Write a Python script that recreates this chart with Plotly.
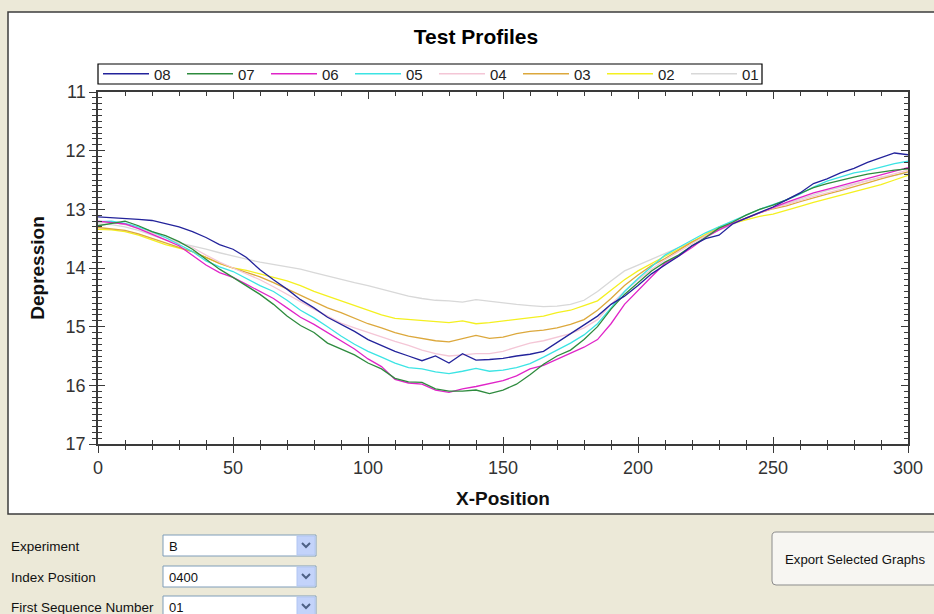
import plotly.graph_objects as go

# ---------------- data ----------------
x_position = list(range(0, 301, 5))

series_names = ["08", "07", "06", "05", "04", "03", "02", "01"]
series_colors = ["#23239B", "#2E8B3E", "#E024C8", "#3CE4E4", "#F4C6D6", "#DCA83C", "#F4F020", "#D8D8D8"]

s08 = [13.13, 13.14, 13.15, 13.17, 13.19, 13.24, 13.30, 13.38, 13.48, 13.60,
       13.68, 13.82, 14.03, 14.20, 14.36, 14.54, 14.68, 14.84, 14.96, 15.08,
       15.22, 15.32, 15.42, 15.50, 15.58, 15.50, 15.62, 15.46, 15.57, 15.56,
       15.54, 15.50, 15.47, 15.42, 15.27, 15.12, 14.98, 14.82, 14.62, 14.48,
       14.30, 14.10, 13.95, 13.80, 13.62, 13.50, 13.44, 13.25, 13.15, 13.05,
       12.96, 12.84, 12.72, 12.56, 12.48, 12.38, 12.30, 12.20, 12.12, 12.04,
       12.07]
s07 = [13.28, 13.24, 13.20, 13.28, 13.38, 13.45, 13.55, 13.68, 13.85, 14.02,
       14.16, 14.30, 14.45, 14.62, 14.82, 14.98, 15.10, 15.28, 15.38, 15.48,
       15.62, 15.72, 15.88, 15.94, 15.95, 16.06, 16.10, 16.10, 16.08, 16.14,
       16.08, 15.98, 15.82, 15.64, 15.50, 15.40, 15.22, 15.00, 14.70, 14.45,
       14.25, 14.05, 13.90, 13.78, 13.62, 13.48, 13.32, 13.22, 13.10, 13.00,
       12.93, 12.84, 12.73, 12.63, 12.56, 12.50, 12.45, 12.40, 12.36, 12.33,
       12.31]
s06 = [13.20, 13.22, 13.25, 13.33, 13.42, 13.52, 13.62, 13.78, 13.95, 14.08,
       14.16, 14.28, 14.40, 14.52, 14.68, 14.84, 14.96, 15.10, 15.24, 15.38,
       15.55, 15.68, 15.90, 15.96, 15.98, 16.08, 16.12, 16.06, 16.02, 15.97,
       15.92, 15.84, 15.72, 15.66, 15.56, 15.45, 15.35, 15.22, 14.95, 14.62,
       14.38, 14.15, 13.92, 13.80, 13.65, 13.48, 13.35, 13.24, 13.15, 13.06,
       12.96, 12.88, 12.80, 12.72, 12.66, 12.60, 12.53, 12.48, 12.42, 12.35,
       12.29]
s05 = [13.21, 13.20, 13.24, 13.30, 13.38, 13.48, 13.60, 13.72, 13.88, 13.98,
       14.06, 14.18, 14.30, 14.40, 14.55, 14.72, 14.85, 15.00, 15.16, 15.30,
       15.42, 15.52, 15.62, 15.70, 15.72, 15.77, 15.80, 15.76, 15.71, 15.76,
       15.74, 15.70, 15.63, 15.52, 15.40, 15.28, 15.14, 14.95, 14.68, 14.40,
       14.18, 13.98, 13.78, 13.65, 13.52, 13.40, 13.30, 13.20, 13.10, 13.00,
       12.92, 12.84, 12.74, 12.62, 12.52, 12.45, 12.38, 12.34, 12.28, 12.22,
       12.18]
s04 = [13.22, 13.22, 13.26, 13.32, 13.40, 13.48, 13.56, 13.65, 13.78, 13.90,
       14.00, 14.10, 14.20, 14.32, 14.45, 14.58, 14.70, 14.82, 14.94, 15.02,
       15.10, 15.18, 15.25, 15.32, 15.40, 15.46, 15.50, 15.48, 15.46, 15.46,
       15.42, 15.35, 15.28, 15.24, 15.18, 15.12, 15.02, 14.88, 14.62, 14.40,
       14.20, 14.02, 13.86, 13.72, 13.58, 13.45, 13.34, 13.24, 13.14, 13.05,
       12.98, 12.92, 12.85, 12.78, 12.72, 12.66, 12.58, 12.52, 12.46, 12.40,
       12.33]
s03 = [13.31, 13.33, 13.36, 13.42, 13.50, 13.58, 13.65, 13.72, 13.82, 13.92,
       14.00, 14.08, 14.15, 14.25, 14.36, 14.46, 14.58, 14.68, 14.76, 14.86,
       14.95, 15.02, 15.10, 15.16, 15.20, 15.24, 15.26, 15.20, 15.15, 15.20,
       15.18, 15.12, 15.08, 15.06, 15.02, 14.96, 14.88, 14.72, 14.52, 14.30,
       14.12, 13.96, 13.84, 13.70, 13.56, 13.45, 13.32, 13.24, 13.15, 13.06,
       12.99, 12.94, 12.87, 12.80, 12.74, 12.68, 12.62, 12.55, 12.48, 12.42,
       12.36]
s02 = [13.34, 13.35, 13.38, 13.44, 13.52, 13.60, 13.66, 13.72, 13.82, 13.92,
       14.00, 14.04, 14.10, 14.16, 14.22, 14.30, 14.40, 14.48, 14.56, 14.64,
       14.72, 14.80, 14.86, 14.88, 14.90, 14.92, 14.93, 14.90, 14.95, 14.93,
       14.90, 14.88, 14.85, 14.82, 14.76, 14.72, 14.64, 14.56, 14.38, 14.20,
       14.05, 13.92, 13.80, 13.68, 13.55, 13.42, 13.30, 13.24, 13.18, 13.12,
       13.08, 13.02, 12.95, 12.88, 12.82, 12.76, 12.70, 12.64, 12.58, 12.50,
       12.42]
s01 = [13.25, 13.26, 13.30, 13.36, 13.44, 13.52, 13.57, 13.62, 13.68, 13.74,
       13.80, 13.85, 13.90, 13.94, 13.98, 14.02, 14.08, 14.14, 14.20, 14.25,
       14.30, 14.36, 14.42, 14.48, 14.52, 14.55, 14.56, 14.58, 14.54, 14.57,
       14.60, 14.62, 14.64, 14.66, 14.65, 14.62, 14.55, 14.40, 14.22, 14.05,
       13.95, 13.85, 13.76, 13.66, 13.55, 13.45, 13.35, 13.25, 13.15, 13.06,
       12.98, 12.90, 12.82, 12.75, 12.68, 12.62, 12.56, 12.50, 12.45, 12.42,
       12.38]
series_values = [s08, s07, s06, s05, s04, s03, s02, s01]

x_tick_values = [0, 50, 100, 150, 200, 250, 300]
y_tick_values = [11, 12, 13, 14, 15, 16, 17]

# form controls (text)
control_labels = ["Experiment", "Index Position", "First Sequence Number"]
control_values = ["B", "0400", "01"]
button_label = "Export Selected Graphs"

# ---------------- layout helpers ----------------
FIG_W, FIG_H = 934, 614
L, T, R, B = 98, 92, 26, 170
PW, PH = FIG_W - L - R, FIG_H - T - B


def px(x):
    return (x - L) / PW


def py(y):
    return (T + PH - y) / PH


FONT = "Liberation Sans, Arial, Helvetica, sans-serif"
AXCOL = "#3a3a3a"

fig = go.Figure()

# draw 01 first so 08 ends up on top; legend reversed to show 08 first
for name, color, vals in reversed(list(zip(series_names, series_colors, series_values))):
    fig.add_trace(go.Scatter(x=x_position, y=vals, name=name, mode="lines",
                             line=dict(color=color, width=1.3)))

# invisible trace on overlay axes (for crossing tick marks)
fig.add_trace(go.Scatter(x=[], y=[], xaxis="x2", yaxis="y2", showlegend=False,
                         hoverinfo="skip"))

shapes = []
annotations = []

# chart panel
shapes.append(dict(type="rect", xref="paper", yref="paper",
                   x0=px(8), x1=px(946), y0=py(12), y1=py(514),
                   fillcolor="white", line=dict(color="#3c3c3c", width=1.5),
                   layer="below"))

# legend frame
shapes.append(dict(type="rect", xref="paper", yref="paper",
                   x0=px(98), x1=px(762), y0=py(84), y1=py(64),
                   fillcolor="white", line=dict(color="#000000", width=1.2)))

# form controls
rows_y = [546, 577, 607]
for lab, val, cy in zip(control_labels, control_values, rows_y):
    annotations.append(dict(text=lab, xref="paper", yref="paper", x=px(9), y=py(cy),
                            xanchor="left", yanchor="middle", showarrow=False,
                            font=dict(family=FONT, size=13.5, color="#111111")))
    top, bot = cy - 11, cy + 10
    shapes.append(dict(type="rect", xref="paper", yref="paper",
                       x0=px(163), x1=px(316), y0=py(bot), y1=py(top),
                       fillcolor="white", line=dict(color="#7F9DB9", width=1)))
    shapes.append(dict(type="rect", xref="paper", yref="paper",
                       x0=px(297), x1=px(315), y0=py(bot - 1), y1=py(top + 1),
                       fillcolor="#C3D3FA", line=dict(color="#B2C6F2", width=1)))
    path = "M %f,%f L %f,%f L %f,%f" % (px(302), py(cy - 3), px(306), py(cy + 1),
                                         px(310), py(cy - 3))
    shapes.append(dict(type="path", xref="paper", yref="paper", path=path,
                       line=dict(color="#4D6185", width=2)))
    annotations.append(dict(text=val, xref="paper", yref="paper", x=px(167), y=py(cy),
                            xanchor="left", yanchor="middle", showarrow=False,
                            font=dict(family=FONT, size=13, color="#111111")))

# export button
bx0, bx1, by0, by1, r = 772, 950, 532, 585, 4
bpath = ("M %f,%f L %f,%f L %f,%f L %f,%f Q %f,%f %f,%f L %f,%f Q %f,%f %f,%f Z" % (
    px(bx0 + r), py(by0), px(bx1), py(by0),
    px(bx1), py(by1), px(bx0 + r), py(by1),
    px(bx0), py(by1), px(bx0), py(by1 - r),
    px(bx0), py(by0 + r), px(bx0), py(by0), px(bx0 + r), py(by0)))
shapes.append(dict(type="path", xref="paper", yref="paper", path=bpath,
                   fillcolor="#F7F6F2", line=dict(color="#8C8C8C", width=1)))
annotations.append(dict(text=button_label, xref="paper", yref="paper",
                        x=px(855), y=py(559), xanchor="center", yanchor="middle",
                        showarrow=False,
                        font=dict(family=FONT, size=13.2, color="#111111")))

tickfont = dict(family=FONT, size=18, color="#333333")
titlefont = dict(family=FONT, size=19, color="#111111", weight="bold")

fig.update_layout(
    width=FIG_W, height=FIG_H, autosize=False,
    margin=dict(l=L, r=R, t=T, b=B, pad=0),
    paper_bgcolor="#ECE9D8", plot_bgcolor="white",
    title=dict(text="Test Profiles", x=476 / FIG_W, xref="container", xanchor="center",
               y=1 - 37 / FIG_H, yref="container", yanchor="middle",
               font=dict(family=FONT, size=21, color="#000000", weight="bold")),
    showlegend=True,
    legend=dict(orientation="h", traceorder="reversed", x=0, xanchor="left",
                y=py(74), yanchor="middle", bgcolor="rgba(0,0,0,0)",
                borderwidth=0, font=dict(family=FONT, size=15, color="#222222"),
                entrywidth=23, entrywidthmode="pixels", itemwidth=46),
    xaxis=dict(range=[0, 300], tickvals=x_tick_values, ticks="outside", ticklen=7,
               tickwidth=1.2, tickcolor=AXCOL, showline=True, linecolor=AXCOL,
               linewidth=1.5, mirror=True, showgrid=False, zeroline=False,
               tickfont=tickfont,
               minor=dict(dtick=10, ticks="outside", ticklen=4, tickcolor=AXCOL,
                          showgrid=False),
               title=dict(text="X-Position", font=titlefont, standoff=14)),
    yaxis=dict(range=[17, 11], tickvals=y_tick_values, ticks="outside", ticklen=7,
               tickwidth=1.2, tickcolor=AXCOL, showline=True, linecolor=AXCOL,
               linewidth=1.5, mirror=True, showgrid=False, zeroline=False,
               tickfont=tickfont,
               minor=dict(dtick=0.1, ticks="outside", ticklen=4, tickcolor=AXCOL,
                          showgrid=False),
               title=dict(text="Depression", font=titlefont, standoff=16)),
    xaxis2=dict(overlaying="x", matches="x", anchor="y2", range=[0, 300],
                tickvals=x_tick_values, ticks="inside", ticklen=7, tickwidth=1.2,
                tickcolor=AXCOL, mirror="ticks", showline=False, showgrid=False,
                zeroline=False, showticklabels=False,
                minor=dict(dtick=10, ticks="inside", ticklen=4, tickcolor=AXCOL,
                           showgrid=False)),
    yaxis2=dict(overlaying="y", matches="y", anchor="x2", range=[17, 11],
                tickvals=y_tick_values, ticks="inside", ticklen=7, tickwidth=1.2,
                tickcolor=AXCOL, mirror="ticks", showline=False, showgrid=False,
                zeroline=False, showticklabels=False,
                minor=dict(dtick=0.1, ticks="inside", ticklen=4, tickcolor=AXCOL,
                           showgrid=False)),
    shapes=shapes,
    annotations=annotations,
)

fig.write_html("out.html", config=dict(displayModeBar=False),
               post_script="document.body.style.margin='0px';document.body.style.overflow='hidden';")
